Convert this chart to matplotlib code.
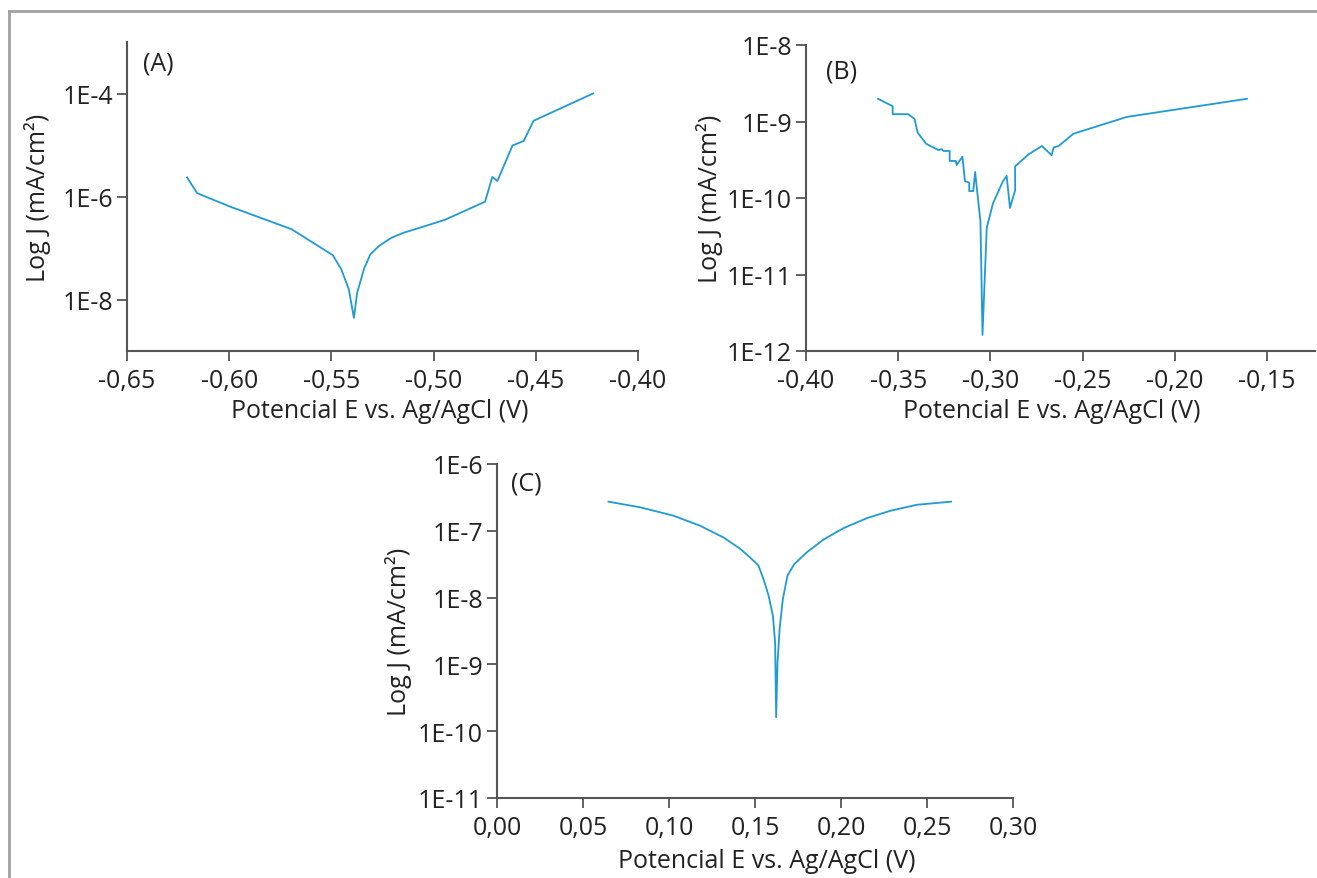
import matplotlib
matplotlib.use("Agg")
import matplotlib.pyplot as plt
from matplotlib.ticker import NullLocator
from matplotlib.lines import Line2D
import numpy as np

plt.rcParams['font.family'] = ['Open Sans', 'DejaVu Sans']

# panel A: potential (V) and log10 J
a_e = [-0.6206, -0.6157, -0.5997, -0.5695, -0.5493, -0.5452, -0.5415, -0.5390,
       -0.5374, -0.5340, -0.5309, -0.5267, -0.5206, -0.5144, -0.5062, -0.4943,
       -0.4748, -0.4713, -0.4688, -0.4614, -0.4559, -0.4511, -0.4220]
a_logj = [-5.63, -5.935, -6.195, -6.635, -7.14, -7.41, -7.80, -8.355,
          -7.87, -7.40, -7.12, -6.96, -6.80, -6.70, -6.60, -6.45,
          -6.10, -5.62, -5.70, -5.01, -4.92, -4.53, -4.00]

# panel B
b_e = [-0.361, -0.353, -0.353, -0.3446, -0.3412, -0.3394, -0.3349, -0.3281,
       -0.3265, -0.3254, -0.3221, -0.3221, -0.3188, -0.3183, -0.3152, -0.3138,
       -0.3115, -0.3115, -0.3093, -0.3083, -0.3054, -0.3043, -0.3020, -0.2986,
       -0.2934, -0.2912, -0.2894, -0.2866, -0.2866, -0.2793, -0.2721, -0.2668,
       -0.2657, -0.2630, -0.2550, -0.2260, -0.1609]
b_logj = [-8.703, -8.80, -8.904, -8.904, -8.965, -9.148, -9.29, -9.375,
          -9.36, -9.385, -9.385, -9.515, -9.515, -9.57, -9.46, -9.78,
          -9.80, -9.91, -9.91, -9.66, -10.31, -11.79, -10.39, -10.07,
          -9.79, -9.71, -10.13, -9.90, -9.585, -9.43, -9.32, -9.44,
          -9.34, -9.32, -9.16, -8.94, -8.703]

# panel C
c_e = [0.0648, 0.0832, 0.1026, 0.1181, 0.1317, 0.1414, 0.1472, 0.1520,
       0.1549, 0.1579, 0.1604, 0.1617, 0.1623, 0.1631, 0.1643, 0.1662,
       0.1689, 0.1728, 0.1802, 0.1899, 0.2015, 0.2151, 0.2287, 0.2442, 0.2640]
c_logj = [-6.564, -6.648, -6.774, -6.924, -7.10, -7.27, -7.40, -7.52,
          -7.72, -7.97, -8.27, -8.67, -9.79, -8.97, -8.47, -8.02,
          -7.67, -7.50, -7.32, -7.13, -6.96, -6.81, -6.70, -6.61, -6.564]

a_xticks = [-0.65, -0.60, -0.55, -0.50, -0.45, -0.40]
a_yticks = [-4, -6, -8]
b_xticks = [-0.40, -0.35, -0.30, -0.25, -0.20, -0.15]
b_yticks = [-8, -9, -10, -11, -12]
c_xticks = [0.00, 0.05, 0.10, 0.15, 0.20, 0.25, 0.30]
c_yticks = [-6, -7, -8, -9, -10, -11]

line_color = '#1f9ad6'
axis_color = '#555555'
text_color = '#222222'
xlabel = 'Potencial E vs. Ag/AgCl (V)'
ylabel = 'Log J (mA/cm²)'
fs = 18

fig = plt.figure(figsize=(13.17, 8.79), dpi=100)

# thin gray frame on top and left
fig.add_artist(Line2D([9 / 1317, 1.0], [1 - 12 / 879, 1 - 12 / 879],
                      color='#a0a0a0', lw=2, transform=fig.transFigure))
fig.add_artist(Line2D([9 / 1317, 9 / 1317], [0, 1 - 12 / 879],
                      color='#a0a0a0', lw=2, transform=fig.transFigure))


def panel(rect, e, logj, xticks, yticks, xlim, ylim, tag, tagpos, xlab_xy, ylab_x):
    ax = fig.add_axes(rect)
    ax.plot(e, 10.0 ** np.array(logj), color=line_color, lw=1.3)
    ax.set_yscale('log')
    ax.set_xlim(*xlim)
    ax.set_ylim(10.0 ** ylim[0], 10.0 ** ylim[1])
    ax.set_xticks(xticks)
    ax.set_xticklabels([f'{v:.2f}'.replace('.', ',') for v in xticks])
    ax.set_yticks([10.0 ** v for v in yticks])
    ax.set_yticklabels([f'1E{v}' for v in yticks])
    ax.yaxis.set_minor_locator(NullLocator())
    for s in ['top', 'right']:
        ax.spines[s].set_visible(False)
    for s in ['left', 'bottom']:
        ax.spines[s].set_color(axis_color)
        ax.spines[s].set_linewidth(1.5)
    ax.tick_params(direction='out', length=7, width=1.3, color=axis_color,
                   labelsize=fs, labelcolor=text_color)
    ax.tick_params(axis='x', pad=5)
    ax.tick_params(axis='y', pad=3)
    ax.set_xlabel(xlabel, fontsize=fs, color=text_color, va='center')
    ax.set_ylabel(ylabel, fontsize=fs, color=text_color, va='center')
    ax.xaxis.set_label_coords(*xlab_xy)
    ax.yaxis.set_label_coords(ylab_x, 0.5)
    ax.text(tagpos[0], tagpos[1], tag, transform=ax.transAxes, fontsize=fs,
            color=text_color, va='center', ha='left')
    return ax


panel([127 / 1317, 1 - 352 / 879, 511 / 1317, 309 / 879], a_e, a_logj,
      a_xticks, a_yticks, (-0.65, -0.40), (-9, -3), '(A)', (0.031, 0.932),
      (0.495, -0.194), -0.176)
panel([806 / 1317, 1 - 352 / 879, 509 / 1317, 306 / 879], b_e, b_logj,
      b_xticks, b_yticks, (-0.40, -0.124), (-12, -8), '(B)', (0.04, 0.915),
      (0.483, -0.196), -0.19)
panel([497 / 1317, 1 - 799 / 879, 516 / 1317, 334 / 879], c_e, c_logj,
      c_xticks, c_yticks, (0.0, 0.30), (-11, -6), '(C)', (0.027, 0.943),
      (0.523, -0.188), -0.19)

fig.savefig('out.png', dpi=100)
